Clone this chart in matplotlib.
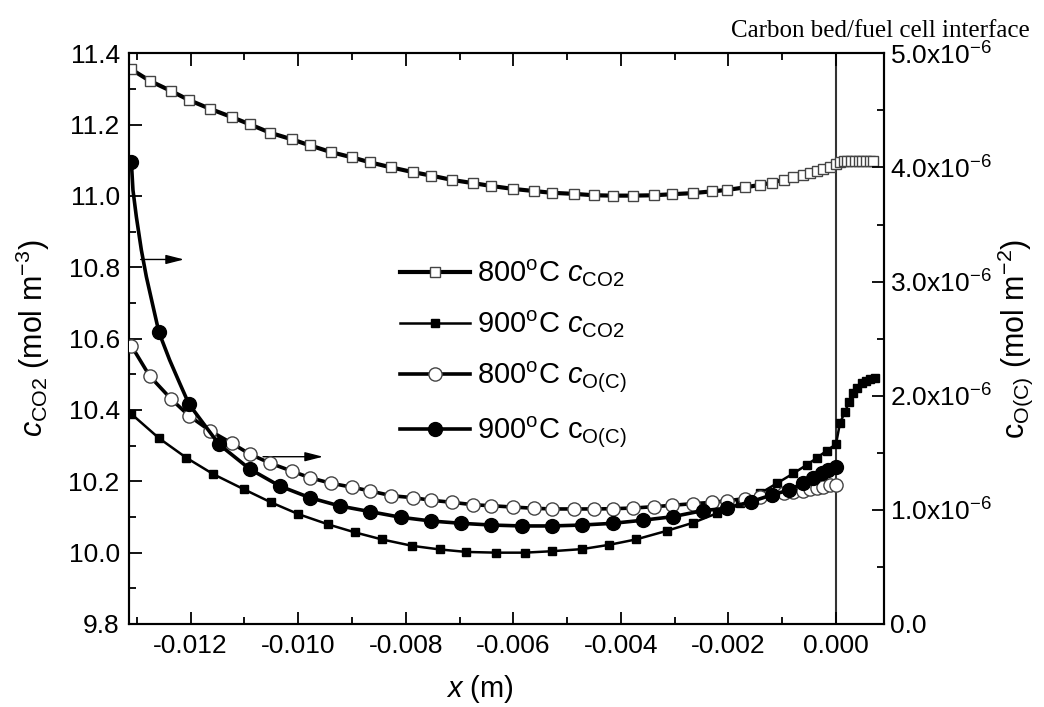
import matplotlib
matplotlib.use("Agg")
import matplotlib.pyplot as plt
from matplotlib.lines import Line2D
from matplotlib.ticker import FuncFormatter, MultipleLocator

plt.rcParams["font.family"] = ["Liberation Sans", "DejaVu Sans"]
plt.rcParams["mathtext.fontset"] = "custom"
plt.rcParams["mathtext.rm"] = "Liberation Sans"
plt.rcParams["mathtext.it"] = "Liberation Sans:italic"
plt.rcParams["mathtext.bf"] = "Liberation Sans:bold"
plt.rcParams["axes.unicode_minus"] = False

# carbon bed mesh for the 800 C run (m)
x800 = [-0.013103, -0.012763, -0.012359, -0.012032, -0.011633, -0.011232, -0.010902,
        -0.010517, -0.010121, -0.009786, -0.009390, -0.008992, -0.008657, -0.008266,
        -0.007870, -0.007522, -0.007139, -0.006748, -0.006406, -0.006015, -0.005624,
        -0.005289, -0.004880, -0.004497, -0.004154, -0.003771, -0.003380, -0.003046,
        -0.002666, -0.002301, -0.002022, -0.001699, -0.001414, -0.001191, -0.000967,
        -0.000794, -0.000620, -0.000484, -0.000359, -0.000236, -0.000112, 0.0]
co2_800 = [11.355, 11.323, 11.294, 11.269, 11.244, 11.221, 11.201, 11.177, 11.159,
           11.142, 11.123, 11.108, 11.094, 11.080, 11.067, 11.057, 11.045, 11.036,
           11.028, 11.020, 11.014, 11.009, 11.006, 11.002, 11.001, 11.001, 11.002,
           11.005, 11.008, 11.013, 11.017, 11.024, 11.031, 11.037, 11.046, 11.054,
           11.060, 11.065, 11.071, 11.076, 11.081, 11.090]
# fuel cell side, 800 C
x800_fc = [0.00007, 0.00014, 0.00021, 0.00028, 0.00035, 0.00042, 0.00049, 0.00056,
           0.00063, 0.00069]
co2_800_fc = [11.096, 11.097, 11.098, 11.098, 11.099, 11.099, 11.099, 11.099, 11.099,
              11.099]
# surface oxygen, 800 C (1e-6 mol m^-2)
oc_800 = [2.438, 2.173, 1.969, 1.825, 1.691, 1.583, 1.489, 1.408, 1.340, 1.282, 1.233,
          1.198, 1.165, 1.124, 1.107, 1.084, 1.066, 1.045, 1.036, 1.025, 1.014, 1.008,
          1.008, 1.008, 1.010, 1.016, 1.028, 1.040, 1.054, 1.066, 1.080, 1.098, 1.115,
          1.130, 1.145, 1.156, 1.168, 1.180, 1.189, 1.200, 1.215, 1.220]

# 900 C run, CO2 through bed and fuel cell
x900_co2 = [-0.013103, -0.012590, -0.012080, -0.011578, -0.011014, -0.010506, -0.009996,
            -0.009438, -0.008949, -0.008441, -0.007875, -0.007367, -0.006871, -0.006313,
            -0.005786, -0.005289, -0.004720, -0.004218, -0.003721, -0.003150, -0.002655,
            -0.002220, -0.001786, -0.001414, -0.001103, -0.000794, -0.000545, -0.000359,
            -0.000173, 0.0, 0.000074, 0.000167, 0.000247, 0.000322, 0.000396, 0.000478,
            0.000558, 0.000633, 0.000726]
co2_900 = [10.389, 10.321, 10.266, 10.220, 10.178, 10.141, 10.108, 10.079, 10.057,
           10.037, 10.019, 10.009, 10.002, 10.000, 10.000, 10.004, 10.010, 10.022,
           10.037, 10.061, 10.084, 10.110, 10.138, 10.166, 10.194, 10.222, 10.246,
           10.265, 10.286, 10.304, 10.363, 10.395, 10.423, 10.447, 10.461, 10.475,
           10.482, 10.486, 10.489]

# 900 C run, surface oxygen (1e-6 mol m^-2)
x900_oc = [-0.013103, -0.012590, -0.012032, -0.011473, -0.010902, -0.010344, -0.009786,
           -0.009228, -0.008657, -0.008093, -0.007522, -0.006964, -0.006406, -0.005847,
           -0.005289, -0.004720, -0.004154, -0.003596, -0.003038, -0.002480, -0.002034,
           -0.001587, -0.001196, -0.000869, -0.000620, -0.000422, -0.000266, -0.000143, 0.0]
oc_900 = [4.050, 2.556, 1.927, 1.574, 1.358, 1.209, 1.107, 1.034, 0.984, 0.935, 0.902,
          0.882, 0.867, 0.859, 0.859, 0.867, 0.882, 0.909, 0.940, 0.993, 1.014, 1.071,
          1.130, 1.174, 1.233, 1.276, 1.320, 1.349, 1.378]
# extra curve points on the steep inlet section (no markers there)
x900_oc_curve = [-0.013073, -0.013010, -0.012917, -0.012824, -0.012701, -0.012391, -0.012205]
oc_900_curve = [3.802, 3.568, 3.277, 3.043, 2.786, 2.313, 2.111]

labels = [r"800$^\mathrm{o}$C $c_\mathrm{CO2}$",
          r"900$^\mathrm{o}$C $c_\mathrm{CO2}$",
          r"800$^\mathrm{o}$C $c_\mathrm{O(C)}$",
          r"900$^\mathrm{o}$C c$_\mathrm{O(C)}$"]

fig = plt.figure(figsize=(10.44, 7.07), dpi=100)
ax1 = fig.add_axes([0.1239, 0.1174, 0.7232, 0.8072])
ax2 = ax1.twinx()

ax1.axvline(0.0, color="#333333", lw=1.5, zorder=1)

open_kw = dict(mfc="white", mec="#444444", mew=1.0)

# left axis: CO2 concentration
ax1.plot(x800 + x800_fc, co2_800 + co2_800_fc, "-", color="k", lw=3.0,
         marker="s", ms=7.5, **open_kw, zorder=3)
ax1.plot(x900_co2, co2_900, "-", color="k", lw=1.8, marker="s", ms=5.5,
         mfc="k", mec="k", zorder=3)

# right axis: adsorbed oxygen
sc = 1e-6
ax2.plot(x800, [v * sc for v in oc_800], "-", color="k", lw=2.6,
         marker="o", ms=9.5, **open_kw, zorder=3)
curve = sorted(zip(x900_oc + x900_oc_curve, oc_900 + oc_900_curve))
ax2.plot([p[0] for p in curve], [p[1] * sc for p in curve], "-", color="k", lw=2.6,
         zorder=3)
ax2.plot(x900_oc, [v * sc for v in oc_900], "none", marker="o", ms=10,
         mfc="k", mec="k", zorder=3)

ax1.set_xlim(-0.01314, 0.0009)
ax1.set_ylim(9.8, 11.4)
ax2.set_ylim(0, 5e-6)

ax1.xaxis.set_major_locator(MultipleLocator(0.002))
ax1.xaxis.set_minor_locator(MultipleLocator(0.001))
ax1.xaxis.set_major_formatter(FuncFormatter(lambda v, p: "%.3f" % v if abs(v) > 1e-9 else "0.000"))
ax1.yaxis.set_major_locator(MultipleLocator(0.2))
ax1.yaxis.set_minor_locator(MultipleLocator(0.1))
ax1.yaxis.set_major_formatter(FuncFormatter(lambda v, p: "%.1f" % v))
ax2.yaxis.set_major_locator(MultipleLocator(1e-6))
ax2.yaxis.set_minor_locator(MultipleLocator(0.5e-6))
ax2.yaxis.set_major_formatter(FuncFormatter(
    lambda v, p: "0.0" if v < 1e-9 else r"%.1fx10$^{-6}$" % (v / 1e-6)))

ax1.tick_params(axis="both", which="both", direction="in", width=1.3, labelsize=19, pad=7)
ax1.tick_params(axis="x", which="both", top=True)
ax1.tick_params(which="major", length=9)
ax1.tick_params(which="minor", length=5)
ax2.tick_params(axis="y", which="both", direction="in", width=1.3, labelsize=19, pad=4)
ax2.tick_params(which="major", length=9)
ax2.tick_params(which="minor", length=5)

for ax in (ax1, ax2):
    for s in ax.spines.values():
        s.set_linewidth(1.5)

ax1.set_xlabel(r"$x$ (m)", fontsize=21)
ax1.set_ylabel(r"$c_\mathrm{CO2}$ (mol m$^{-3}$)", fontsize=22)
ax2.set_ylabel(r"c$_\mathrm{O(C)}$ (mol m$^{-2}$)", fontsize=22)
ax1.xaxis.set_label_coords(0.4645, -0.085)
ax1.yaxis.set_label_coords(-0.103, 0.5)
ax2.yaxis.set_label_coords(1.147, 0.5)

# arrows pointing the O(C) curves to the right axis
arrow = dict(arrowstyle="-|>,head_length=0.55,head_width=0.14", color="k", lw=1.0,
             mutation_scale=20, shrinkA=0, shrinkB=0)
ax1.annotate("", xy=(-0.012123, 10.822), xytext=(-0.012930, 10.822), arrowprops=arrow)
ax1.annotate("", xy=(-0.009538, 10.269), xytext=(-0.010654, 10.269), arrowprops=arrow)

handles = [
    Line2D([], [], color="k", lw=3.0, marker="s", ms=7.5, **open_kw),
    Line2D([], [], color="k", lw=1.8, marker="s", ms=5.5, mfc="k", mec="k"),
    Line2D([], [], color="k", lw=2.6, marker="o", ms=9.5, **open_kw),
    Line2D([], [], color="k", lw=2.6, marker="o", ms=10, mfc="k", mec="k"),
]
ax2.legend(handles, labels, loc="upper left", bbox_to_anchor=(400 / 1044, 1 - 258 / 707),
           bbox_transform=fig.transFigure, frameon=False, fontsize=21, borderpad=0,
           borderaxespad=0, handlelength=2.4, handletextpad=0.25, labelspacing=0.68)

fig.text(1030 / 1044, 1 - 37 / 707, "Carbon bed/fuel cell interface",
         family="Liberation Serif", fontsize=18, ha="right", va="baseline")

fig.savefig("out.png", dpi=100)
